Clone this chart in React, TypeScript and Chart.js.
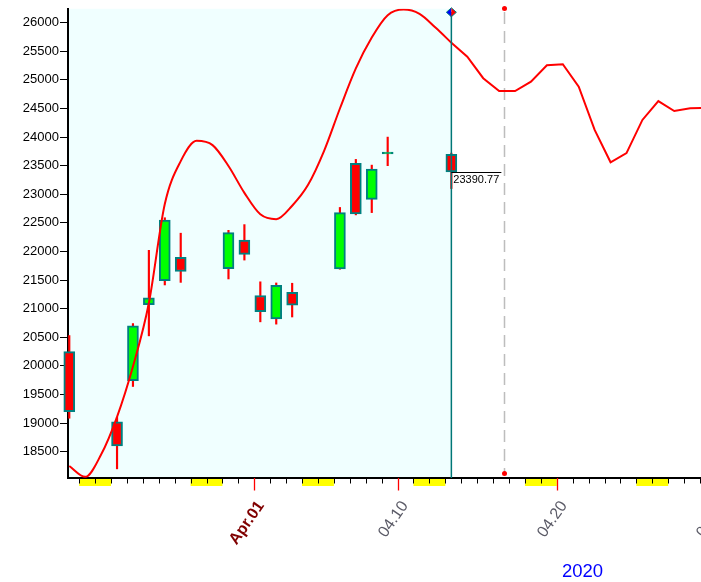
import React, { useEffect, useRef } from 'react';
import { Chart, registerables } from 'chart.js';

Chart.register(...registerables);

// ---- data (DJIA daily candles, 2020) ----
const candleDates = ['03.20', '03.23', '03.24', '03.25', '03.26', '03.27', '03.30', '03.31', '04.01', '04.02', '04.03', '04.06', '04.07', '04.08', '04.09', '04.13'];
// day index counted from 2020-03-20 (calendar days)
const candleDays = [0, 3, 4, 5, 6, 7, 10, 11, 12, 13, 14, 17, 18, 19, 20, 24];
const opens = [20250, 19020, 19740, 21070, 21490, 21900, 21700, 22200, 21230, 20820, 21285, 21695, 23540, 22910, 23705, 23700];
const highs = [20530, 19100, 20740, 22020, 22590, 22320, 22370, 22470, 21470, 21450, 21445, 22770, 23610, 23510, 24000, 23720];
const lows = [19085, 18200, 19640, 20525, 21415, 21460, 21520, 21850, 20770, 20730, 20855, 21690, 22640, 22680, 23500, 23100];
const closes = [19200, 18600, 20700, 21190, 22550, 21650, 22330, 21950, 20950, 21410, 21060, 22680, 22655, 23440, 23719, 23390.77];

// red curve, one point per calendar day
const lineDays = [0, 1, 2, 3, 4, 5, 6, 7, 8, 9, 10, 11, 12, 13, 14, 15, 16, 17, 18, 19, 20, 21, 22, 23, 24, 25, 26, 27, 28, 29, 30, 31, 32, 33, 34, 35, 36, 37, 38, 39, 40];
const lineValues = [18250, 18060, 18450, 19110, 19990, 21100, 22830, 23580, 23935, 23860, 23495, 23025, 22650, 22565, 22800, 23165, 23755, 24500, 25200, 25740, 26130, 26230, 26155, 25915, 25650, 25405, 25030, 24805, 24805, 24970, 25255, 25275, 24880, 24125, 23560, 23720, 24300, 24630, 24455, 24505, 24512];

const yTickValues = [18500, 19000, 19500, 20000, 20500, 21000, 21500, 22000, 22500, 23000, 23500, 24000, 24500, 25000, 25500, 26000];
const weekendStartDays = [1, 8, 15, 22, 29, 36];
const labelDays = [12, 21, 31, 41];
const labelTexts = ['Apr.01', '04.10', '04.20', '04.30'];
const cursorDay = 24;
const lastClose = 23390.77;
const markerDay = 27.3;
const yearLabel = '2020';

const yMin = 18040;
const yMax = 26243;
const xMin = -0.08;
const xMax = 39.68;
const slotOffset = 0.38;

const FONT = '"Liberation Sans", Arial, sans-serif';

const decorPlugin = {
  id: 'decor',
  beforeDraw(chart: any) {
    const { ctx, chartArea: a, scales } = chart;
    const xc = scales.x.getPixelForValue(cursorDay);
    ctx.save();
    ctx.fillStyle = '#F0FFFF';
    ctx.fillRect(a.left, a.top, xc - a.left, a.bottom - a.top);
    ctx.restore();
  },
  beforeDatasetsDraw(chart: any) {
    const { ctx, chartArea: a, scales } = chart;
    const xm = Math.round(scales.x.getPixelForValue(markerDay)) + 0.5;
    ctx.save();
    ctx.strokeStyle = '#bdbdbd';
    ctx.lineWidth = 1.5;
    ctx.setLineDash([12, 7]);
    ctx.beginPath();
    ctx.moveTo(xm, 12);
    ctx.lineTo(xm, a.bottom - 6);
    ctx.stroke();
    ctx.setLineDash([]);
    ctx.fillStyle = '#ff0000';
    ctx.beginPath();
    ctx.arc(xm, 8.5, 2.5, 0, Math.PI * 2);
    ctx.fill();
    ctx.beginPath();
    ctx.arc(xm, a.bottom - 4.5, 2.5, 0, Math.PI * 2);
    ctx.fill();
    ctx.restore();
  },
  afterDatasetsDraw(chart: any) {
    const { ctx, chartArea: a, scales } = chart;
    const xc = scales.x.getPixelForValue(cursorDay);
    const yc = Math.round(scales.y.getPixelForValue(lastClose)) + 0.5;
    ctx.save();
    // cursor line
    ctx.strokeStyle = '#007777';
    ctx.lineWidth = 1.5;
    ctx.beginPath();
    ctx.moveTo(xc, 12);
    ctx.lineTo(xc, a.bottom);
    ctx.stroke();
    // diamond marker
    const dy = 12.3, hw = 5, hh = 4.5;
    ctx.fillStyle = '#0000ff';
    ctx.beginPath();
    ctx.moveTo(xc, dy - hh);
    ctx.lineTo(xc - hw, dy);
    ctx.lineTo(xc, dy + hh);
    ctx.closePath();
    ctx.fill();
    ctx.fillStyle = '#ff0000';
    ctx.beginPath();
    ctx.moveTo(xc, dy - hh);
    ctx.lineTo(xc + hw, dy);
    ctx.lineTo(xc, dy + hh);
    ctx.closePath();
    ctx.fill();
    ctx.strokeStyle = '#008080';
    ctx.lineWidth = 1;
    ctx.beginPath();
    ctx.moveTo(xc, dy - hh);
    ctx.lineTo(xc - hw, dy);
    ctx.lineTo(xc, dy + hh);
    ctx.lineTo(xc + hw, dy);
    ctx.closePath();
    ctx.stroke();
    // close price label
    ctx.strokeStyle = '#000000';
    ctx.lineWidth = 1;
    ctx.beginPath();
    ctx.moveTo(xc, yc);
    ctx.lineTo(xc + 50, yc);
    ctx.stroke();
    ctx.fillStyle = '#000000';
    ctx.font = '11px ' + FONT;
    ctx.textAlign = 'left';
    ctx.textBaseline = 'top';
    ctx.fillText(lastClose.toFixed(2), xc + 2, yc + 2);
    ctx.restore();
  },
  afterDraw(chart: any) {
    const { ctx, chartArea: a, scales } = chart;
    const x = scales.x;
    const slotPx = (d: number) => x.getPixelForValue(d - slotOffset);
    ctx.save();
    // weekends
    ctx.fillStyle = '#ffff00';
    weekendStartDays.forEach((d) => {
      const x1 = slotPx(d);
      const x2 = slotPx(d + 2);
      ctx.fillRect(x1, a.bottom + 1, x2 - x1, 7);
    });
    // day ticks
    ctx.strokeStyle = '#000000';
    ctx.lineWidth = 1;
    for (let d = 0; d <= 42; d++) {
      const px = Math.round(slotPx(d)) + 0.5;
      if (px < a.left + 2 || px > a.right) continue;
      if (labelDays.indexOf(d) >= 0) continue;
      ctx.beginPath();
      ctx.moveTo(px, a.bottom);
      ctx.lineTo(px, a.bottom + 5.5);
      ctx.stroke();
    }
    // labelled ticks
    labelDays.forEach((d, i) => {
      const px = Math.round(slotPx(d)) + 0.5;
      ctx.strokeStyle = '#ff0000';
      ctx.lineWidth = 1.3;
      ctx.beginPath();
      ctx.moveTo(px, a.bottom);
      ctx.lineTo(px, a.bottom + 12.5);
      ctx.stroke();
      ctx.save();
      ctx.translate(px + 6.5, a.bottom + 25);
      ctx.rotate((-55 * Math.PI) / 180);
      ctx.textAlign = 'right';
      ctx.textBaseline = 'middle';
      if (i === 0) {
        ctx.font = 'bold 16px ' + FONT;
        ctx.fillStyle = '#800000';
      } else {
        ctx.font = '16px ' + FONT;
        ctx.fillStyle = '#5a5a66';
      }
      ctx.fillText(labelTexts[i], 0, 0);
      ctx.restore();
    });
    // year
    ctx.fillStyle = '#0000ff';
    ctx.font = '18.5px ' + FONT;
    ctx.textAlign = 'left';
    ctx.textBaseline = 'alphabetic';
    ctx.fillText(yearLabel, 562, 577);
    ctx.restore();
  },
};

export default function App() {
  const canvasRef = useRef<HTMLCanvasElement | null>(null);

  useEffect(() => {
    document.body.style.margin = '0';
    const canvas = canvasRef.current;
    if (!canvas) return;

    const bodies = candleDays.map((d, i) => ({ x: d, y: [opens[i], closes[i]] }));
    const wicks = candleDays.map((d, i) => ({ x: d, y: [lows[i], highs[i]] }));
    const bodyColors = candleDays.map((_, i) => (closes[i] < opens[i] ? '#ff0000' : '#00ff00'));

    const smoothPts = lineDays.filter((d) => d <= cursorDay).map((d) => ({ x: d, y: lineValues[lineDays.indexOf(d)] }));
    const straightPts = lineDays.filter((d) => d >= cursorDay).map((d) => ({ x: d, y: lineValues[lineDays.indexOf(d)] }));

    const chart = new Chart(canvas, {
      type: 'bar',
      data: {
        datasets: [
          {
            type: 'line',
            label: 'curve-a',
            data: smoothPts,
            borderColor: '#ff0000',
            borderWidth: 2,
            pointRadius: 0,
            cubicInterpolationMode: 'monotone',
            order: 0,
          } as any,
          {
            type: 'line',
            label: 'curve-b',
            data: straightPts,
            borderColor: '#ff0000',
            borderWidth: 2,
            pointRadius: 0,
            tension: 0,
            order: 0,
          } as any,
          {
            type: 'bar',
            label: 'body',
            data: bodies as any,
            backgroundColor: bodyColors,
            borderColor: '#008080',
            borderWidth: 2,
            borderSkipped: false,
            barThickness: 11,
            minBarLength: 2,
            grouped: false,
            clip: false,
            order: 1,
          } as any,
          {
            type: 'bar',
            label: 'wick',
            data: wicks as any,
            backgroundColor: '#ff0000',
            borderWidth: 0,
            barThickness: 1.5,
            grouped: false,
            clip: false,
            order: 2,
          } as any,
        ],
      },
      options: {
        animation: false,
        responsive: false,
        events: [],
        layout: { padding: { top: 5, right: 0, left: 0, bottom: 0 } },
        plugins: { legend: { display: false }, tooltip: { enabled: false } },
        scales: {
          x: {
            type: 'linear',
            min: xMin,
            max: xMax,
            offset: false,
            ticks: { display: false },
            grid: { display: false, drawTicks: false },
            border: { display: true, color: '#000000', width: 2 },
            afterFit: (s: any) => {
              s.height = 104;
            },
          },
          y: {
            type: 'linear',
            min: yMin,
            max: yMax,
            afterBuildTicks: (s: any) => {
              s.ticks = yTickValues.map((v) => ({ value: v }));
            },
            ticks: {
              color: '#000000',
              padding: 1,
              font: { family: FONT, size: 13 },
              callback: (v: any) => String(v),
            },
            grid: { display: true, drawOnChartArea: false, drawTicks: true, tickLength: 8, color: '#000000', lineWidth: 1 },
            border: { display: true, color: '#000000', width: 2 },
            afterFit: (s: any) => {
              s.width = 68;
            },
          },
        },
      } as any,
      plugins: [decorPlugin],
    });

    return () => chart.destroy();
  }, []);

  return (
    <div style={{ position: 'fixed', left: 0, top: 0, width: 701, height: 582, background: '#ffffff' }}>
      <canvas ref={canvasRef} width={701} height={582} style={{ width: 701, height: 582, display: 'block' }} />
    </div>
  );
}
